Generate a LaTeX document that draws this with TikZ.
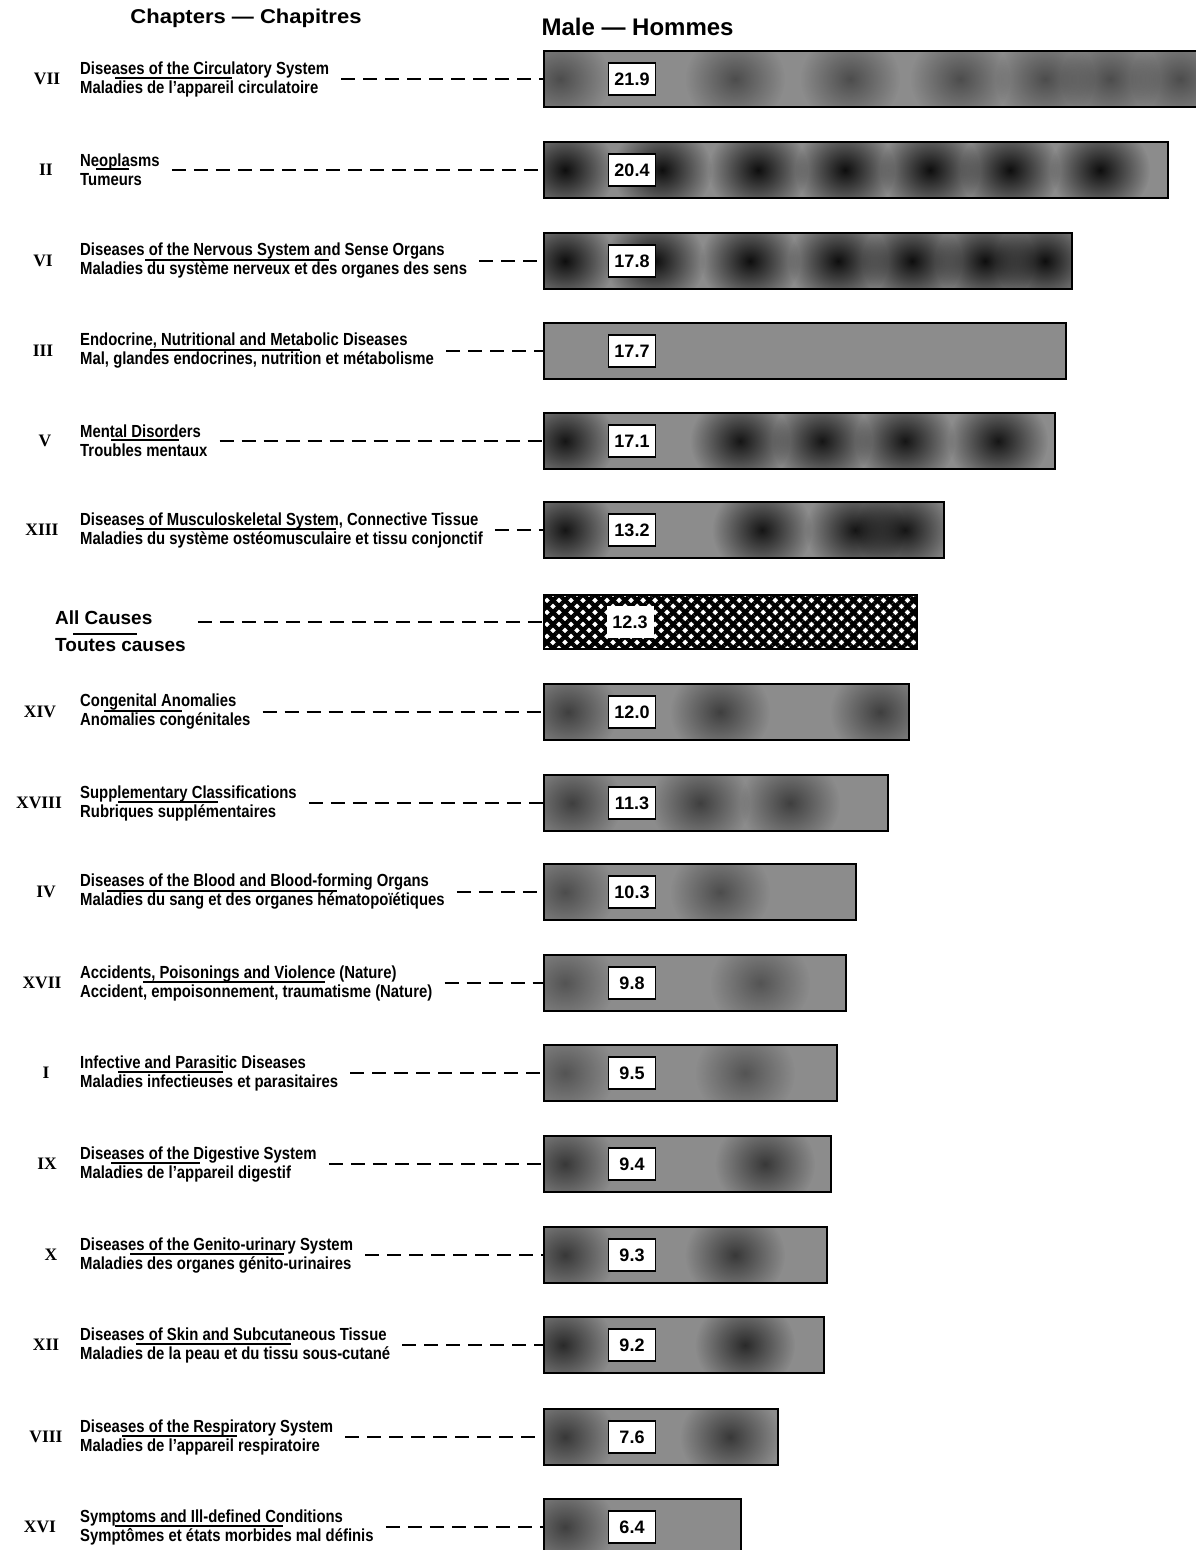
\documentclass[tikz,border=0pt]{standalone}
\usepackage{fontspec}
\setmainfont{Liberation Sans}
\newfontfamily\condfont[FakeStretch=0.85]{Liberation Sans}
\newfontfamily\widefont[FakeStretch=1.1]{Liberation Sans}
\newfontfamily\numfont{Liberation Serif}
\usetikzlibrary{patterns.meta,fadings}
\definecolor{barfill}{gray}{0.55}
\tikzfading[name=blobfade, inner color=transparent!0, outer color=transparent!100]
\tikzset{
  lab/.style={anchor=west, align=left, inner sep=0pt, font=\condfont\bfseries\fontsize{17.5}{19}\selectfont},
  num/.style={inner sep=0pt, font=\numfont\bfseries\fontsize{17.5}{19}\selectfont},
  barbox/.style={anchor=west, inner sep=0pt, minimum height=55pt, fill=barfill},
  valbox/.style={fill=white, draw=black, line width=1.2pt, minimum width=47pt, minimum height=32pt, inner sep=0pt, font=\bfseries\fontsize{18}{18}\selectfont},
  dashline/.style={line width=1.8pt, dash pattern=on 14pt off 8pt, shorten <=12pt},
  uline/.style={line width=1.2pt},
  barline/.style={line width=2pt},
}
\begin{document}
\begin{tikzpicture}[x=1pt, y=-1pt]
\useasboundingbox (0,0) rectangle (1196,1550);
\node[font=\widefont\bfseries\fontsize{20}{20}\selectfont] (hchap) at (246,18) {Chapters — Chapitres};
\node[anchor=west, font=\bfseries\fontsize{24}{24}\selectfont] (hmale) at (538,27) {Male — Hommes};

\foreach \id/\y/\rx/\num/\nx/\la/\lb/\ua/\ub/\val/\bl/\bs in {
 a/79/1200/VII/47/{Diseases of the Circulatory System}/{Maladies de l’appareil circulatoire}/115/232/21.9/{560,735,850,960,1045,1110,1180}/0.45,
 b/170/1168/II/46/{Neoplasms}/{Tumeurs}/96/129/20.4/{565,662,758,845,930,1010,1100}/0.9,
 c/261/1072/VI/43/{Diseases of the Nervous System and Sense Organs}/{Maladies du système nerveux et des organes des sens}/145/329/17.8/{565,655,750,838,912,985,1045}/0.9,
 d/351/1066/III/43/{Endocrine, Nutritional and Metabolic Diseases}/{Mal, glandes endocrines, nutrition et métabolisme}/150/300/17.7/{-100}/0.3,
 e/441/1055/V/45/{Mental Disorders}/{Troubles mentaux}/111/179/17.1/{565,740,822,905,998}/0.85,
 f/530/944/XIII/42/{Diseases of Musculoskeletal System, Connective Tissue}/{Maladies du système ostéomusculaire et tissu conjonctif}/136/336/13.2/{565,762,855,905}/0.85,
 h/712/909/XIV/40/{Congenital Anomalies}/{Anomalies congénitales}/104/182/12.0/{568,720,880}/0.55,
 i/803/888/XVIII/39/{Supplementary Classifications}/{Rubriques supplémentaires}/118/218/11.3/{572,700,790}/0.55,
 j/892/856/IV/46/{Diseases of the Blood and Blood-forming Organs}/{Maladies du sang et des organes hématopoïétiques}/107/337/10.3/{565,720}/0.45,
 k/983/846/XVII/42/{Accidents, Poisonings and Violence (Nature)}/{Accident, empoisonnement, traumatisme (Nature)}/143/325/9.8/{565,760}/0.4,
 l/1073/837/I/46/{Infective and Parasitic Diseases}/{Maladies infectieuses et parasitaires}/118/223/9.5/{565,745}/0.4,
 m/1164/831/IX/47/{Diseases of the Digestive System}/{Maladies de l’appareil digestif}/111/200/9.4/{565,765}/0.6,
 n/1255/827/X/51/{Diseases of the Genito-urinary System}/{Maladies des organes génito-urinaires}/130/284/9.3/{565,735}/0.6,
 o/1345/824/XII/46/{Diseases of Skin and Subcutaneous Tissue}/{Maladies de la peau et du tissu sous-cutané}/136/291/9.2/{563,745}/0.7,
 p/1437/778/VIII/46/{Diseases of the Respiratory System}/{Maladies de l’appareil respiratoire}/122/237/7.6/{565,730}/0.6,
 q/1527/741/XVI/40/{Symptoms and Ill-defined Conditions}/{Symptômes et états morbides mal définis}/115/283/6.4/{565}/0.55}
{
  \node[barbox, minimum width={(\rx-544)*1pt}] (bar\id) at (544,\y) {};
  \begin{scope}
    \clip (bar\id.south west) rectangle (bar\id.north east);
    \foreach \bx in \bl {\fill[black, fill opacity=\bs, path fading=blobfade] (\bx,\y) ellipse (50pt and 46pt);}
  \end{scope}
  \draw[barline] (bar\id.south west) rectangle (bar\id.north east);
  \node[valbox] (val\id) at (632,\y) {\val};
  \node[num] (num\id) at (\nx,\y) {\num};
  \node[lab] (lab\id) at (80,\y) {\la\\\lb};
  \draw[uline] (\ua,\y-1) -- (\ub,\y-1);
  \draw[dashline] (lab\id.east) -- (bar\id.west);
}

% All causes
\node[anchor=west, inner sep=0pt, minimum width=373pt, minimum height=53pt, fill=white] (barall) at (544,622) {};
\pattern[pattern={Lines[angle=45,distance=8.5pt,line width=4.2pt]}, pattern color=black] (barall.south west) rectangle (barall.north east);
\pattern[pattern={Lines[angle=-45,distance=8.5pt,line width=4.2pt]}, pattern color=black] (barall.south west) rectangle (barall.north east);
\draw[barline] (barall.south west) rectangle (barall.north east);
\node[valbox, draw=none] (valall) at (630,622) {12.3};
\node[anchor=west, align=left, inner sep=0pt, font=\bfseries\fontsize{19}{27}\selectfont] (laball) at (55,631) {All Causes\\Toutes causes};
\draw[uline] (73,634) -- (137,634);
\draw[dashline] (laball.east |- barall.west) -- (barall.west);
\end{tikzpicture}
\end{document}
